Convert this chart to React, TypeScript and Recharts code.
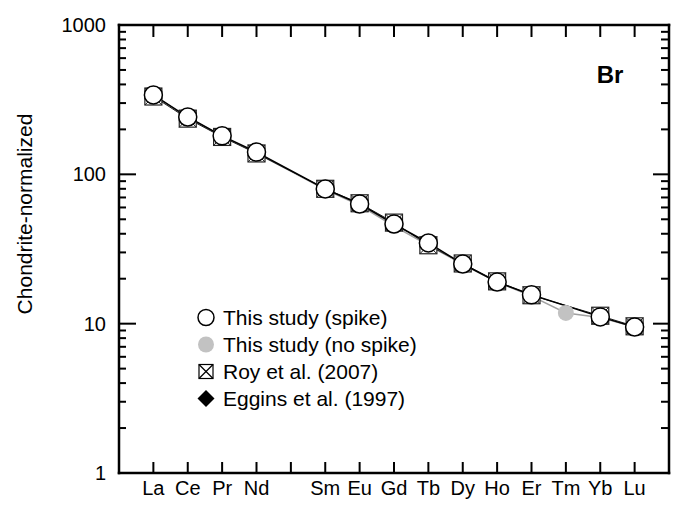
import { ComposedChart, Legend, Line, Scatter, XAxis, YAxis } from "recharts";

const FONT = "'Liberation Sans', Arial, sans-serif";

// rare earth elements, Pm left as an empty slot
const ELEMENTS = ["La", "Ce", "Pr", "Nd", "Pm", "Sm", "Eu", "Gd", "Tb", "Dy", "Ho", "Er", "Tm", "Yb", "Lu"];
const X_LABELS = ["La", "Ce", "Pr", "Nd", "", "Sm", "Eu", "Gd", "Tb", "Dy", "Ho", "Er", "Tm", "Yb", "Lu"];
const X_TICKS = [1, 2, 3, 4, 5, 6, 7, 8, 9, 10, 11, 12, 13, 14, 15];

const SPIKE = [340, 242, 181, 141, null, 79.8, 63.3, 46.5, 34.7, 25.1, 19.0, 15.6, null, 11.1, 9.5];
const NO_SPIKE = [338, 240, 180, 139, null, 79, 62, 45, 33.5, 25, 19, 15.3, 11.8, 11.0, 9.5];
const ROY = [332, 236, 178, 138, null, 80, 64, 47.5, 33.5, 25.3, 19.2, 15.5, null, 11.3, 9.6];
const EGGINS = [336, 240, 180, 140, null, 79, 63, 46, 34, 25, 19, 15.5, null, 11.1, 9.5];

const Y_TICKS = [
	1, 2, 3, 4, 5, 6, 7, 8, 9,
	10, 20, 30, 40, 50, 60, 70, 80, 90,
	100, 200, 300, 400, 500, 600, 700, 800, 900,
	1000,
];
const Y_LABELS = [1, 10, 100, 1000];

const LEGEND_ITEMS = ["This study (spike)", "This study (no spike)", "Roy et al. (2007)", "Eggins et al. (1997)"];

const rows = ELEMENTS.map((el, i) => ({
	el,
	x: i + 1,
	spike: SPIKE[i],
	noSpike: NO_SPIKE[i],
	roy: ROY[i],
	eggins: EGGINS[i],
}));

// inward tick marks on the frame, placed through the chart scales
const bottomTicks = X_TICKS.map((x) => ({ x, y: 1 }));
const topTicks = X_TICKS.map((x) => ({ x, y: 1000 }));
const leftTicks = Y_TICKS.map((y) => ({ x: 0, y }));
const rightTicks = Y_TICKS.map((y) => ({ x: 16, y }));

function isMajor(v: number) {
	return Y_LABELS.includes(v);
}

function BottomMark(props: any) {
	const { cx, cy } = props;
	return <rect x={cx - 1} y={cy - 11} width={2} height={11} fill="#000" />;
}

function TopMark(props: any) {
	const { cx, cy } = props;
	return <rect x={cx - 1} y={cy} width={2} height={12} fill="#000" />;
}

function LeftMark(props: any) {
	const { cx, cy, payload } = props;
	return <rect x={cx} y={cy - 1} width={isMajor(payload.y) ? 17 : 7} height={2} fill="#000" />;
}

function RightMark(props: any) {
	const { cx, cy, payload } = props;
	const len = isMajor(payload.y) ? 16 : 8;
	return <rect x={cx - len} y={cy - 1} width={len} height={2} fill="#000" />;
}

function renderBottomLabel(props: any) {
	const { x, y, payload } = props;
	return (
		<text x={x} y={y + 22} textAnchor="middle" fontSize={20} fontFamily={FONT} fill="#000">
			{X_LABELS[payload.value - 1]}
		</text>
	);
}

function renderLeftLabel(props: any) {
	const { x, y, payload } = props;
	if (!isMajor(payload.value)) return <g />;
	return (
		<text x={x - 13} y={y + 7} textAnchor="end" fontSize={20} fontFamily={FONT} fill="#000">
			{payload.value}
		</text>
	);
}

function noLabel() {
	return <g />;
}

function CircleDot(props: any) {
	const { cx, cy, value } = props;
	if (cx == null || cy == null || value == null) return <g key={props.index} />;
	return <circle key={props.index} cx={cx} cy={cy} r={9} fill="#fff" stroke="#000" strokeWidth={1.5} />;
}

function GreyDot(props: any) {
	const { cx, cy, value } = props;
	if (cx == null || cy == null || value == null) return <g key={props.index} />;
	return <circle key={props.index} cx={cx} cy={cy} r={8} fill="#c2c2c2" stroke="none" />;
}

function SquareDot(props: any) {
	const { cx, cy, value } = props;
	if (cx == null || cy == null || value == null) return <g key={props.index} />;
	const h = 8.5;
	return (
		<g key={props.index}>
			<rect x={cx - h} y={cy - h} width={h * 2} height={h * 2} fill="#fff" stroke="#222" strokeWidth={1.2} />
			<line x1={cx - h} y1={cy - h} x2={cx + h} y2={cy + h} stroke="#222" strokeWidth={1} />
			<line x1={cx - h} y1={cy + h} x2={cx + h} y2={cy - h} stroke="#222" strokeWidth={1} />
		</g>
	);
}

function DiamondDot(props: any) {
	const { cx, cy, value } = props;
	if (cx == null || cy == null || value == null) return <g key={props.index} />;
	const h = 8;
	return <path key={props.index} d={`M${cx},${cy - h}L${cx + h},${cy}L${cx},${cy + h}L${cx - h},${cy}Z`} fill="#000" />;
}

function legendMarker(i: number) {
	if (i === 0) return <circle cx={13} cy={13.5} r={8} fill="#fff" stroke="#000" strokeWidth={1.5} />;
	if (i === 1) return <circle cx={13} cy={13.5} r={8} fill="#c2c2c2" />;
	if (i === 2)
		return (
			<g stroke="#000" strokeWidth={1.2} fill="none">
				<rect x={6} y={6.5} width={14} height={14} />
				<line x1={6} y1={6.5} x2={20} y2={20.5} />
				<line x1={6} y1={20.5} x2={20} y2={6.5} />
			</g>
		);
	return <path d="M13,5L21.5,13.5L13,22L4.5,13.5Z" fill="#000" />;
}

function LegendBox() {
	return (
		<div style={{ fontFamily: FONT, fontSize: 21, color: "#000" }}>
			{LEGEND_ITEMS.map((label, i) => (
				<div key={label} style={{ display: "flex", alignItems: "center", height: 27, whiteSpace: "nowrap" }}>
					<svg width={26} height={27} style={{ marginRight: 4 }}>
						{legendMarker(i)}
					</svg>
					<span>{label}</span>
				</div>
			))}
		</div>
	);
}

const axisLine = { stroke: "#000", strokeWidth: 2.5, strokeLinecap: "square" as const };

export default function App() {
	return (
		<div style={{ position: "absolute", left: 0, top: 0, width: 683, height: 510, background: "#fff" }}>
			<ComposedChart width={683} height={510} data={rows} margin={{ top: 24, right: 13, bottom: 0, left: 0 }}>
				<XAxis
					dataKey="x"
					type="number"
					domain={[0, 16]}
					ticks={X_TICKS}
					interval={0}
					height={37}
					tickSize={0}
					tickMargin={0}
					tickLine={false}
					axisLine={axisLine}
					tick={renderBottomLabel}
				/>
				<XAxis
					xAxisId="top"
					orientation="top"
					dataKey="x"
					type="number"
					domain={[0, 16]}
					ticks={X_TICKS}
					interval={0}
					height={1}
					tickSize={0}
					tickMargin={0}
					tickLine={false}
					axisLine={axisLine}
					tick={noLabel}
				/>
				<YAxis
					type="number"
					scale="log"
					domain={[1, 1000]}
					ticks={Y_TICKS}
					interval={0}
					width={119}
					tickSize={0}
					tickMargin={0}
					tickLine={false}
					axisLine={axisLine}
					tick={renderLeftLabel}
				/>
				<YAxis
					yAxisId="right"
					orientation="right"
					type="number"
					scale="log"
					domain={[1, 1000]}
					ticks={Y_TICKS}
					interval={0}
					width={1}
					tickSize={0}
					tickMargin={0}
					tickLine={false}
					axisLine={axisLine}
					tick={noLabel}
				/>

				<Scatter data={bottomTicks} dataKey="y" shape={BottomMark} legendType="none" isAnimationActive={false} />
				<Scatter data={topTicks} dataKey="y" shape={TopMark} legendType="none" isAnimationActive={false} />
				<Scatter data={leftTicks} dataKey="y" shape={LeftMark} legendType="none" isAnimationActive={false} />
				<Scatter data={rightTicks} dataKey="y" shape={RightMark} legendType="none" isAnimationActive={false} />

				<Line dataKey="eggins" stroke="none" dot={DiamondDot} connectNulls isAnimationActive={false} />
				<Line dataKey="noSpike" stroke="#a0a0a0" strokeWidth={1.5} dot={GreyDot} connectNulls isAnimationActive={false} />
				<Line dataKey="roy" stroke="#222" strokeWidth={1} dot={SquareDot} connectNulls isAnimationActive={false} />
				<Line dataKey="spike" stroke="#000" strokeWidth={1.5} dot={CircleDot} connectNulls isAnimationActive={false} />

				<Legend
					layout="vertical"
					align="center"
					verticalAlign="middle"
					content={<LegendBox />}
					wrapperStyle={{ left: 193, top: 304, width: "auto" }}
				/>

				<text x={610} y={83} textAnchor="middle" fontSize={24} fontWeight="bold" fontFamily={FONT} fill="#000">
					Br
				</text>
				<text
					x={24}
					y={214}
					transform="rotate(-90 24 214)"
					textAnchor="middle"
					dominantBaseline="central"
					fontSize={21}
					fontFamily={FONT}
					fill="#000"
				>
					Chondrite-normalized
				</text>
			</ComposedChart>
		</div>
	);
}
